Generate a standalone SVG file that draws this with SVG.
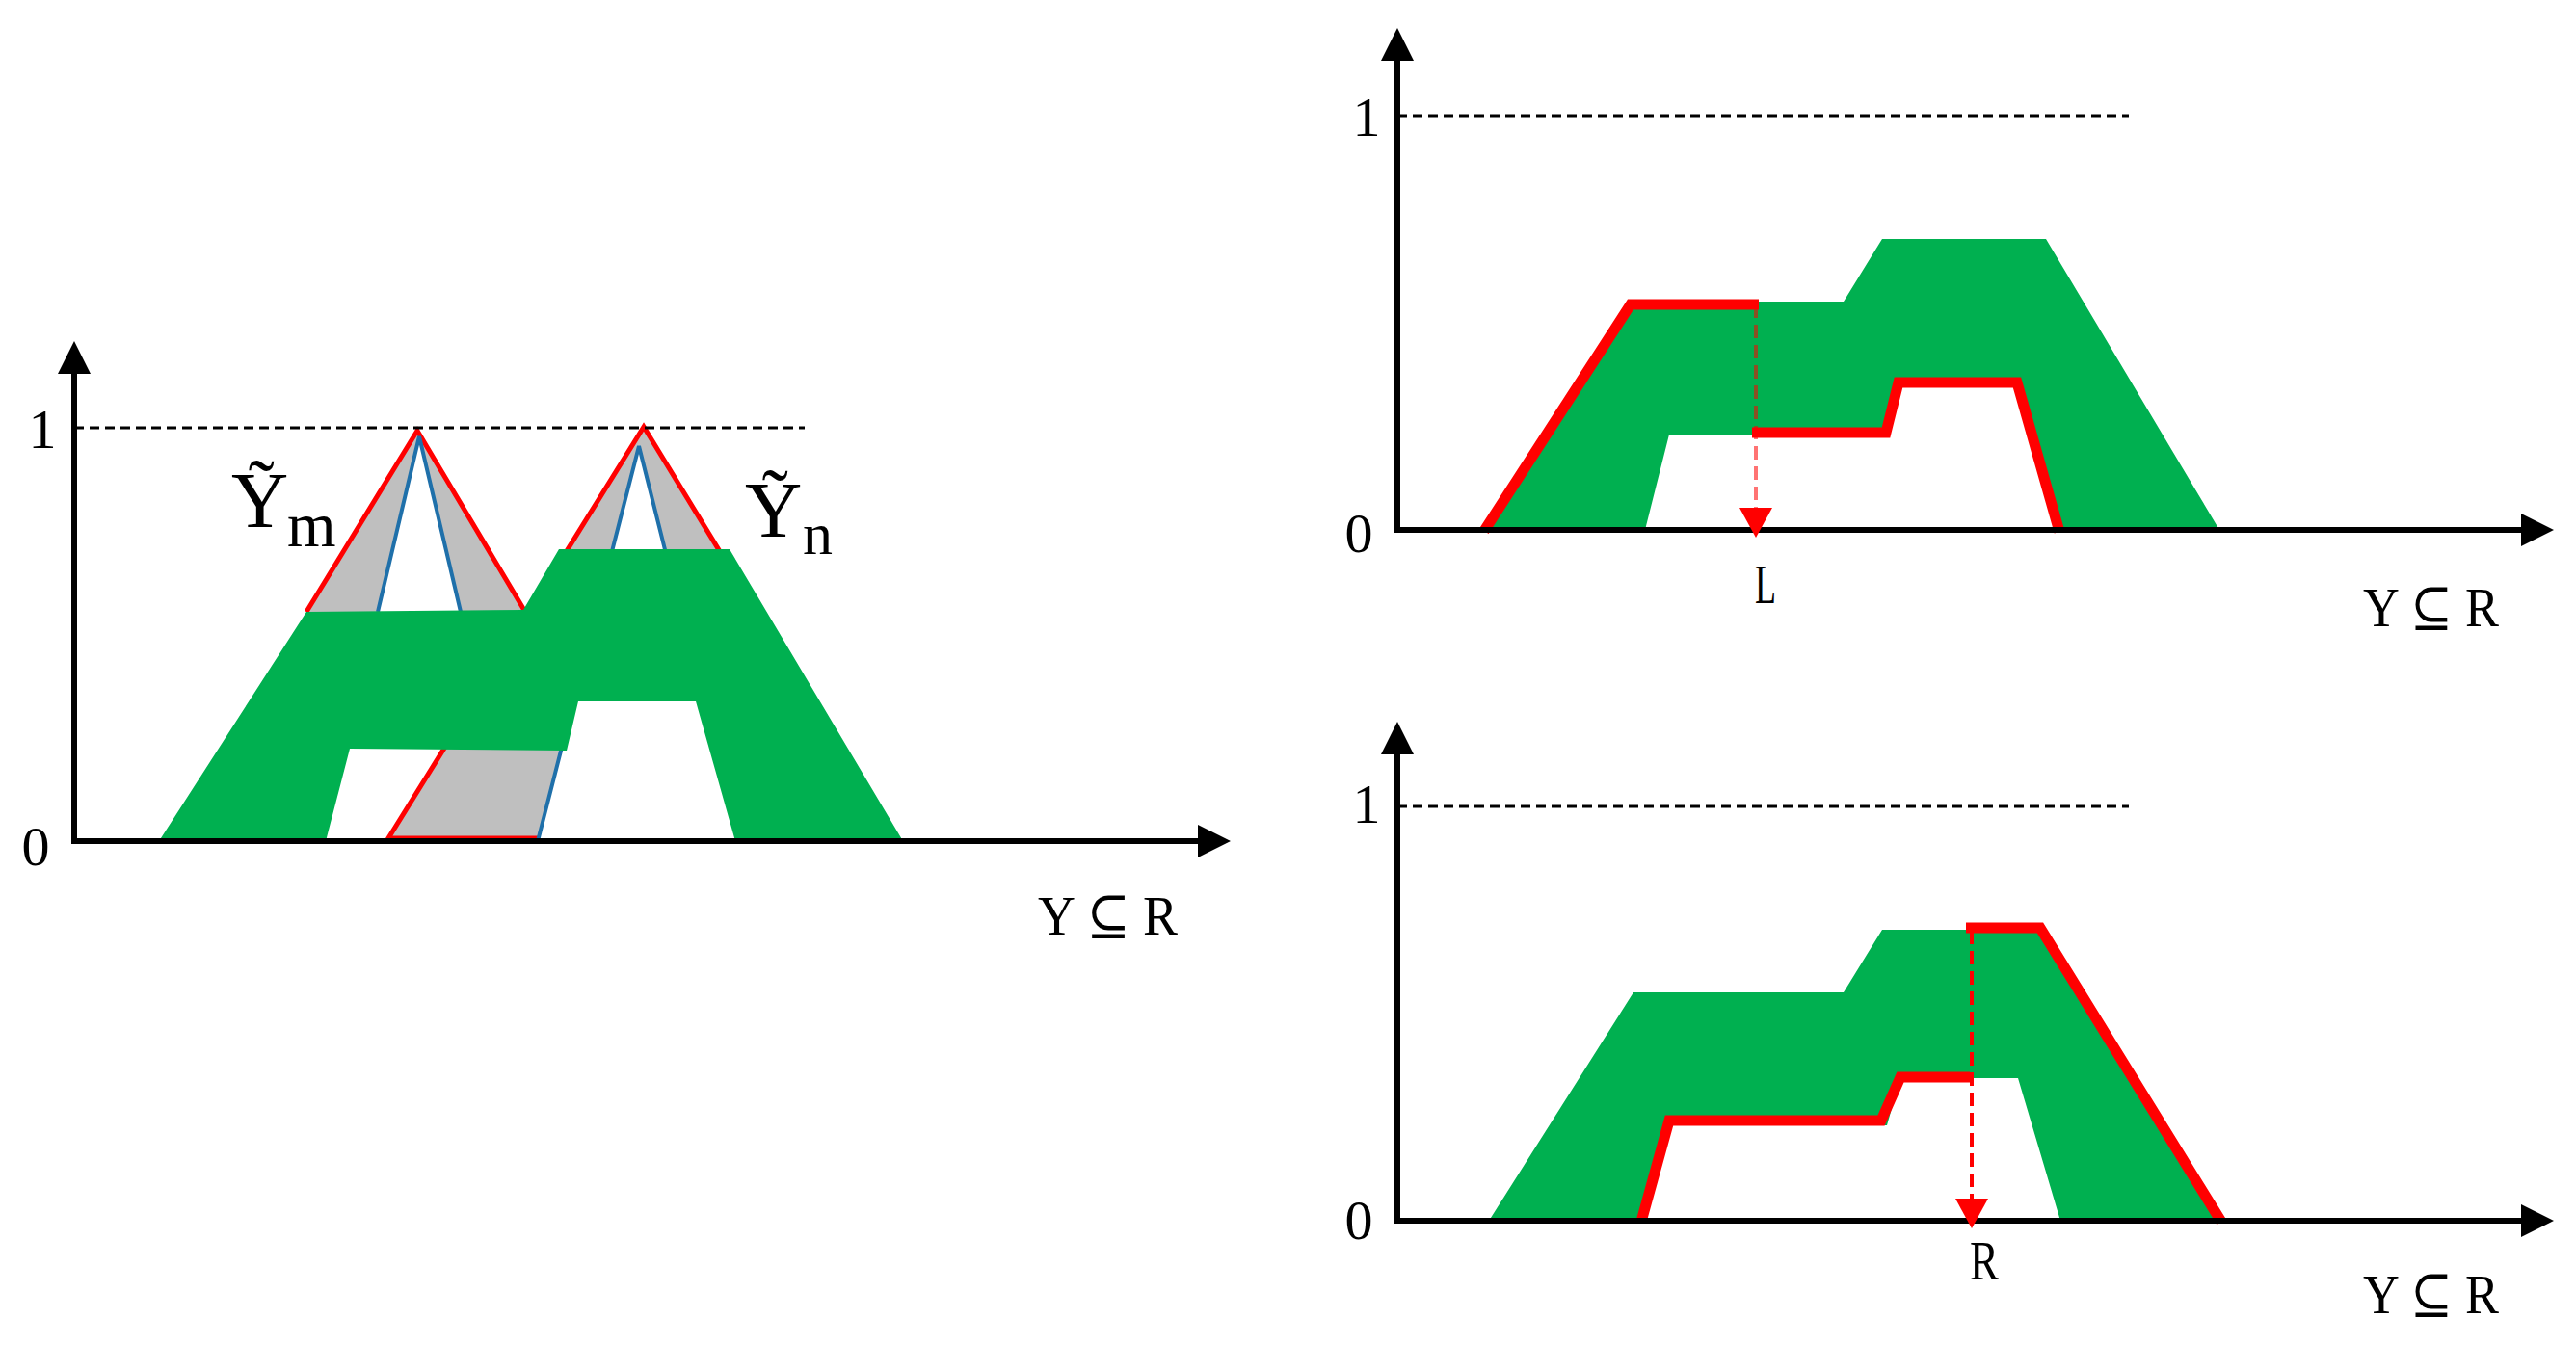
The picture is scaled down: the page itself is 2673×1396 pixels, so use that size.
<svg xmlns="http://www.w3.org/2000/svg" width="2673" height="1396" viewBox="0 0 2673 1396">
  <style>
    .axis { stroke: #000; stroke-width: 6; fill: none; }
    .guide { stroke: #000; stroke-width: 3; stroke-dasharray: 10 6; fill: none; }
    .band { fill: #00B050; stroke: none; }
    .fou { fill: #BFBFBF; stroke: none; }
    .hole { fill: #FFFFFF; stroke: none; }
    .umf { stroke: #FF0000; stroke-width: 5; fill: none; stroke-linejoin: miter; }
    .lmf { stroke: #1F70AA; stroke-width: 4; fill: none; }
    .bound { stroke: #FF0000; stroke-width: 11; fill: none; stroke-linejoin: miter; stroke-linecap: butt; }
    .drop { stroke: #FF0000; stroke-width: 4; stroke-dasharray: 14 7; fill: none; }
    .lbl { font-family: "Liberation Serif", "DejaVu Serif", serif; font-size: 58px; fill: #000; }
    .sym { font-family: "Liberation Serif", "DejaVu Serif", serif; fill: #000; }
  </style>
  <defs>
    <marker id="axis-arrow" markerUnits="userSpaceOnUse" markerWidth="36" markerHeight="36" refX="1" refY="17" orient="auto">
      <path d="M0,0 L34,17 L0,34 Z" fill="#000"/>
    </marker>
    <marker id="red-arrow" markerUnits="userSpaceOnUse" markerWidth="34" markerHeight="36" refX="0" refY="17" orient="auto">
      <path d="M0,0 L31,17 L0,34 Z" fill="#FF0000"/>
    </marker>
    <path id="band-shape" d="M1545,550 L1695,313 L1913,313 L1953,248 L2123,248 L2303,550 L2138,550 L2094,402 L1972,402 L1958,451 L1732,451 L1707,550 Z"/>
  </defs>

  <!-- Left panel -->
  <g id="panel-left">
    <g id="left-fou">
      <!-- Yn footprint -->
      <polygon class="fou" points="668,443 403,871 929,871"/>
      <polygon class="hole" points="663,463 558,873 766,873"/>
      <polyline class="umf" points="558,870 403,870 668,443 929,871"/>
      <polyline class="lmf" points="558,873 663,463 766,873"/>
      <!-- Ym footprint -->
      <polygon class="fou" points="433,447 318,635 545,635"/>
      <polygon class="hole" points="435,453 392,635 478,635"/>
      <polyline class="umf" points="318,635 433,447 545,635"/>
      <polyline class="lmf" points="392,635 435,453 478,635"/>
    </g>
    <path id="left-band" class="band" d="M165,873 L318,635 L543,633 L580,570 L757,570 L937,873 L763,873 L722,728 L600,728 L588,779 L363,777 L338,873 Z"/>
    <g id="left-axes">
      <line class="guide" x1="77" y1="444" x2="835" y2="444"/>
      <line class="axis" x1="77" y1="876" x2="77" y2="387" marker-end="url(#axis-arrow)"/>
      <line class="axis" x1="74" y1="873" x2="1244" y2="873" marker-end="url(#axis-arrow)"/>
    </g>
    <g id="left-labels">
      <text class="lbl" x="44" y="465" text-anchor="middle">1</text>
      <text class="lbl" x="37" y="898" text-anchor="middle">0</text>
      <text class="lbl" x="1077" y="970" textLength="145" lengthAdjust="spacingAndGlyphs" font-size="60">Y ⊆ R</text>
      <text class="sym" x="240" y="547" font-size="82">Ỹ<tspan font-size="65" x="298" y="567">m</tspan></text>
      <text class="sym" x="773" y="557" font-size="82">Ỹ<tspan font-size="62" x="833" y="575">n</tspan></text>
    </g>
  </g>

  <!-- Top-right panel (L) -->
  <g id="panel-top-right">
    <use id="top-band" href="#band-shape" class="band"/>
    <g id="top-bounds">
      <polyline class="bound" points="1540,551 1692,316 1825,316"/>
      <polyline class="bound" points="1818,449 1957,449 1970,397 2093,397 2137,552"/>
    </g>
    <g id="top-axes">
      <line class="guide" x1="1450" y1="120" x2="2209" y2="120"/>
      <line class="axis" x1="1450" y1="553" x2="1450" y2="62" marker-end="url(#axis-arrow)"/>
      <line class="axis" x1="1447" y1="550" x2="2617" y2="550" marker-end="url(#axis-arrow)"/>
    </g>
    <g id="connector-L">
      <line class="drop" x1="1822" y1="316" x2="1822" y2="527" stroke-opacity="0.55" marker-end="url(#red-arrow)"/>
    </g>
    <g id="top-labels">
      <text class="lbl" x="1418" y="141" text-anchor="middle">1</text>
      <text class="lbl" x="1410" y="573" text-anchor="middle">0</text>
      <text class="lbl" x="1821" y="626" textLength="22" lengthAdjust="spacingAndGlyphs">L</text>
      <text class="lbl" x="2452" y="650" textLength="141" lengthAdjust="spacingAndGlyphs" font-size="60">Y ⊆ R</text>
    </g>
  </g>

  <!-- Bottom-right panel (R) -->
  <g id="panel-bottom-right">
    <use id="bottom-band" href="#band-shape" class="band" transform="translate(0,717)"/>
    <g id="bottom-bounds">
      <polyline class="bound" points="1703,1268 1732,1163 1952,1163 1972,1118 2044,1118"/>
      <polyline class="bound" points="2040,963 2117,963 2305,1268"/>
    </g>
    <g id="bottom-axes">
      <line class="guide" x1="1450" y1="837" x2="2209" y2="837"/>
      <line class="axis" x1="1450" y1="1270" x2="1450" y2="782" marker-end="url(#axis-arrow)"/>
      <line class="axis" x1="1447" y1="1267" x2="2617" y2="1267" marker-end="url(#axis-arrow)"/>
    </g>
    <g id="connector-R">
      <line class="drop" x1="2046" y1="966" x2="2046" y2="1244" marker-end="url(#red-arrow)"/>
    </g>
    <g id="bottom-labels">
      <text class="lbl" x="1418" y="854" text-anchor="middle">1</text>
      <text class="lbl" x="1410" y="1286" text-anchor="middle">0</text>
      <text class="lbl" x="2044" y="1328" textLength="30" lengthAdjust="spacingAndGlyphs">R</text>
      <text class="lbl" x="2452" y="1363" textLength="141" lengthAdjust="spacingAndGlyphs" font-size="60">Y ⊆ R</text>
    </g>
  </g>
</svg>
